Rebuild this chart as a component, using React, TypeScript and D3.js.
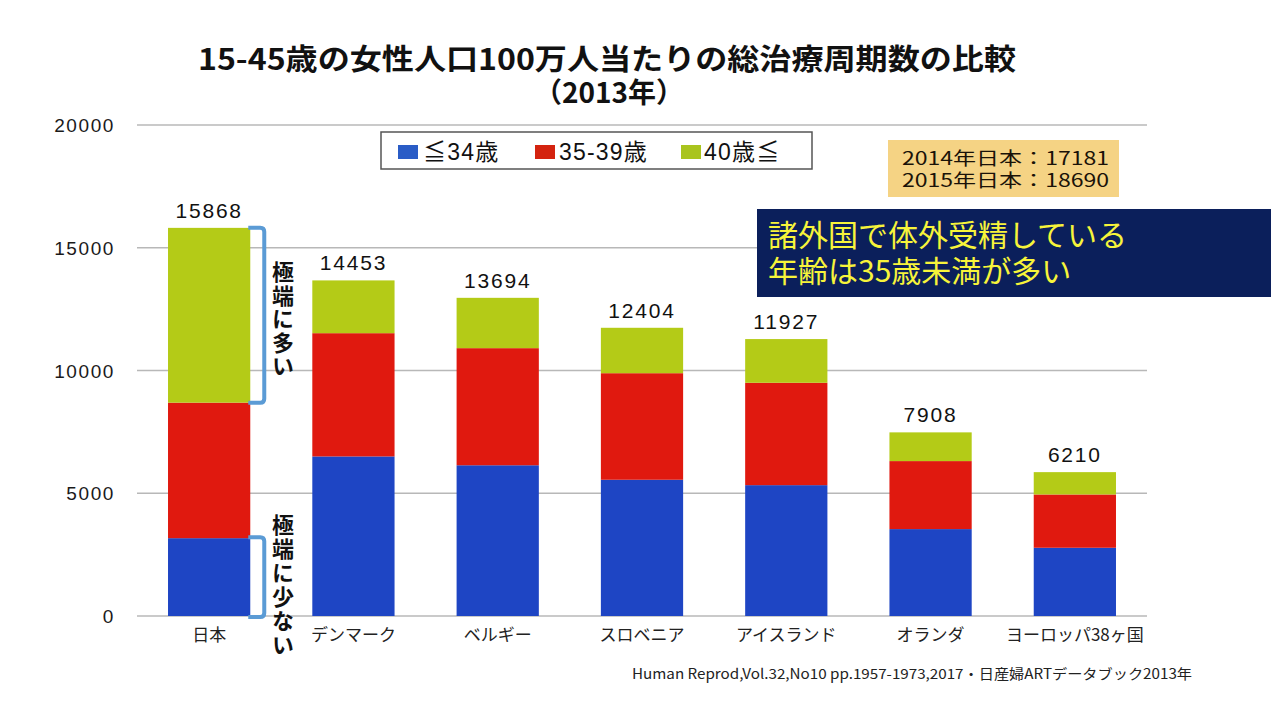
import React from "react";
import * as d3 from "d3";

const categories = ["日本", "デンマーク", "ベルギー", "スロベニア", "アイスランド", "オランダ", "ヨーロッパ38ヶ国"];
const under34 = [3170, 6500, 6140, 5550, 5330, 3540, 2780];
const age35to39 = [5520, 5020, 4770, 4340, 4170, 2770, 2170];
const over40 = [7120, 2150, 2050, 1850, 1780, 1170, 910];
const totalLabels = ["15868", "14453", "13694", "12404", "11927", "7908", "6210"];
const yTicks = [0, 5000, 10000, 15000, 20000];
const seriesNames = ["≦34歳", "35-39歳", "40歳≦"];
const seriesKeys = ["under34", "age35to39", "over40"];
const seriesColors = ["#1E45C4", "#E0190F", "#B4CB17"];
const legendColors = ["#2A5CC6", "#D4230F", "#A9C41E"];
const noteLines = ["2014年日本：17181", "2015年日本：18690"];
const messageLines = ["諸外国で体外受精している", "年齢は35歳未満が多い"];
const bracketHigh = "極端に多い";
const bracketLow = "極端に少ない";
const titleLine1 = "15-45歳の女性人口100万人当たりの総治療周期数の比較";
const titleLine2 = "（2013年）";
const sourceText = "Human Reprod,Vol.32,No10 pp.1957-1973,2017・日産婦ARTデータブック2013年";

const rows = categories.map((c, i) => ({
  cat: c,
  under34: under34[i],
  age35to39: age35to39[i],
  over40: over40[i],
}));

const JP = "'Noto Sans CJK JP', 'Noto Sans', sans-serif";
const LAT = "'Liberation Sans', Arial, sans-serif";

export default function App() {
  const x = d3.scaleBand<string>().domain(categories).range([137, 1147]).paddingInner(0.43).paddingOuter(0.215);
  const y = d3.scaleLinear().domain([0, 20000]).range([616, 125]);
  const stacked = d3.stack<any>().keys(seriesKeys)(rows);
  const bw = x.bandwidth();

  const jx = (x(categories[0]) as number) + bw;
  const jBlue = under34[0];
  const jRed = jBlue + age35to39[0];
  const jTot = jRed + over40[0];
  const bracket = (yTop: number, yBot: number) => {
    const x0 = jx - 2;
    const x1 = jx + 14;
    const r = 4;
    return `M${x0},${yTop} L${x1 - r},${yTop} Q${x1},${yTop} ${x1},${yTop + r} L${x1},${yBot - r} Q${x1},${yBot} ${x1 - r},${yBot} L${x0},${yBot}`;
  };

  const legendItems = [
    { sx: 398, tx: 423 },
    { sx: 535, tx: 559 },
    { sx: 681, tx: 704 },
  ];

  return (
    <svg width={1280} height={720} style={{ position: "absolute", left: 0, top: 0, background: "#fff" }}>
      <rect x={0} y={0} width={1280} height={720} fill="#fff" />
      {/* title */}
      <text x={198} y={70} fontFamily={JP} fontWeight={700} fontSize={29} fill="#111" textLength={818} lengthAdjust="spacingAndGlyphs">
        {titleLine1}
      </text>
      <text x={609} y={103} fontFamily={JP} fontWeight={700} fontSize={28} fill="#111" textAnchor="middle">
        {titleLine2}
      </text>

      {/* gridlines */}
      {yTicks.map((t) => (
        <g key={t}>
          <line x1={137} x2={1147} y1={y(t)} y2={y(t)} stroke="#B8B8B8" strokeWidth={1.5} />
          <text x={115} y={y(t) + 7} textAnchor="end" fontFamily={LAT} fontSize={19} letterSpacing={1.6} fill="#1a1a1a">
            {t}
          </text>
        </g>
      ))}

      {/* bars */}
      {stacked.map((s, si) => (
        <g key={s.key} fill={seriesColors[si]}>
          {s.map((d, i) => (
            <rect key={i} x={x(categories[i])} width={bw} y={y(d[1])} height={y(d[0]) - y(d[1])} />
          ))}
        </g>
      ))}

      {/* total labels */}
      {categories.map((c, i) => {
        const top = under34[i] + age35to39[i] + over40[i];
        return (
          <text key={c} x={(x(c) as number) + bw / 2} y={y(top) - 10} textAnchor="middle" fontFamily={LAT} fontSize={21} letterSpacing={1.8} fill="#111">
            {totalLabels[i]}
          </text>
        );
      })}

      {/* category labels */}
      {categories.map((c) => (
        <text key={c} x={(x(c) as number) + bw / 2} y={641} textAnchor="middle" fontFamily={JP} fontSize={17} fill="#222">
          {c}
        </text>
      ))}

      {/* brackets */}
      <path d={bracket(y(jTot), y(jRed))} fill="none" stroke="#5B9BD5" strokeWidth={4} />
      <path d={bracket(y(jBlue) - 1, y(0) + 1)} fill="none" stroke="#5B9BD5" strokeWidth={4} />
      <text x={283} y={261} style={{ writingMode: "vertical-rl" }} fontFamily={JP} fontWeight={700} fontSize={22} letterSpacing={1.5} fill="#111">
        {bracketHigh}
      </text>
      <text x={283} y={514} style={{ writingMode: "vertical-rl" }} fontFamily={JP} fontWeight={700} fontSize={22} letterSpacing={2} fill="#111">
        {bracketLow}
      </text>

      {/* legend */}
      <rect x={381} y={132} width={431} height={37} fill="#fff" stroke="#555" strokeWidth={1.5} />
      {seriesNames.map((n, i) => (
        <g key={n}>
          <rect x={legendItems[i].sx} y={145} width={20} height={14} fill={legendColors[i]} />
          <text x={legendItems[i].tx} y={160} fontFamily={`'Liberation Sans', ${JP}`} fontSize={23} letterSpacing={1.2} fill="#111">
            {n}
          </text>
        </g>
      ))}

      {/* note box */}
      <rect x={888} y={140} width={231} height={57} fill="#F5D384" />
      {noteLines.map((l, i) => (
        <text key={l} x={902} y={165 + i * 22} fontFamily={JP} fontSize={18} fill="#1a1208" textLength={207} lengthAdjust="spacingAndGlyphs">
          {l}
        </text>
      ))}

      {/* message box */}
      <rect x={757} y={209} width={514} height={88} fill="#0B1F5B" />
      {messageLines.map((l, i) => (
        <text key={l} x={768} y={246 + i * 36} fontFamily={JP} fontSize={30} fill="#F7F43A">
          {l}
        </text>
      ))}

      {/* source */}
      <text x={632} y={679} fontFamily={JP} fontSize={14} fill="#222" textLength={560} lengthAdjust="spacingAndGlyphs">
        {sourceText}
      </text>
    </svg>
  );
}
